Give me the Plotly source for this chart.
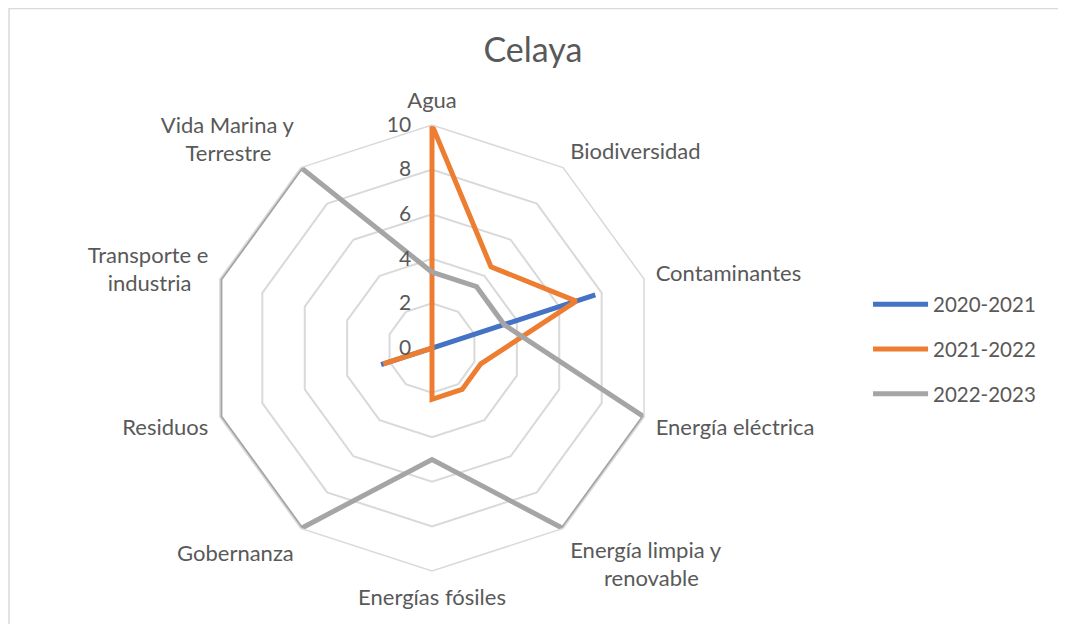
import plotly.graph_objects as go

NB = "\u00a0"

# categorías del radar (espacios duros para centrar las líneas como en Excel)
categorias = ["Agua", "Biodiversidad", "Contaminantes", "Energía eléctrica",
              "Energía limpia y<br>" + NB * 6 + "renovable", "Energías fósiles", "Gobernanza",
              "Residuos", "Transporte e<br>industria" + NB * 3,
              "Vida Marina y<br>Terrestre" + NB * 4]

# valores por periodo
v_2020_2021 = [0, 0, 7.7, 0, 0, 0, 0, 2.4, 0, 0]
v_2021_2022 = [10, 4.5, 6.8, 2.3, 2.3, 2.3, 0, 2.3, 0, 0]
v_2022_2023 = [3.4, 3.4, 3.4, 10, 10, 5, 10, 10, 10, 10]

# marcas del eje radial
ticks_radial = [0, 2, 4, 6, 8, 10]

series = [("2020-2021", v_2020_2021, "#4472C4"),
          ("2021-2022", v_2021_2022, "#ED7D31"),
          ("2022-2023", v_2022_2023, "#A5A5A5")]

fuente = "Lato"
gris_texto = "#595959"

# relleno invisible al final de la etiqueta radial para separarla del eje
relleno = "<span style='color:rgba(0,0,0,0)'>0.</span>"

fig = go.Figure()
for nombre, valores, color in series:
    # cerrar el polígono repitiendo el primer punto
    fig.add_trace(go.Scatterpolar(r=valores + valores[:1], theta=categorias + categorias[:1],
                                  mode="lines", name=nombre, legendgroup=nombre,
                                  line=dict(color=color, width=5)))

# la página tiene 8px de margen en el body, así que la figura es algo más pequeña
fig.update_layout(
    width=1058, height=616,
    margin=dict(l=0, r=0, t=0, b=0),
    paper_bgcolor="white",
    font=dict(family=fuente, color=gris_texto, size=21),
    title=dict(text="Celaya", x=0.4962, xanchor="center", y=0.932, yanchor="middle",
               font=dict(size=34, color=gris_texto, family=fuente)),
    polar=dict(
        domain=dict(x=[0.18998, 0.61153], y=[0.08604, 0.81006]),
        gridshape="linear",
        bgcolor="white",
        angularaxis=dict(rotation=90, direction="clockwise", showgrid=False,
                         showline=True, linecolor="#d9d9d9", linewidth=1.5,
                         ticks="outside", ticklen=7, tickcolor="rgba(0,0,0,0)",
                         tickfont=dict(size=22, color=gris_texto)),
        radialaxis=dict(range=[0, 10], tickvals=ticks_radial,
                        ticktext=[str(v) + relleno for v in ticks_radial],
                        angle=90, tickangle=90,
                        side="counterclockwise", showline=False, ticks="",
                        gridcolor="#d9d9d9", gridwidth=1.5,
                        tickfont=dict(size=21, color=gris_texto)),
    ),
    legend=dict(x=0.8129, y=0.4464, xanchor="left", yanchor="middle",
                font=dict(size=20.5, color=gris_texto), itemwidth=55,
                tracegroupgap=15),
    shapes=[dict(type="rect", xref="paper", yref="paper", x0=0.001, x1=0.998,
                 y0=-0.01, y1=0.999, line=dict(color="#d9d9d9", width=1.5))],
)

fig.write_html("out.html")
